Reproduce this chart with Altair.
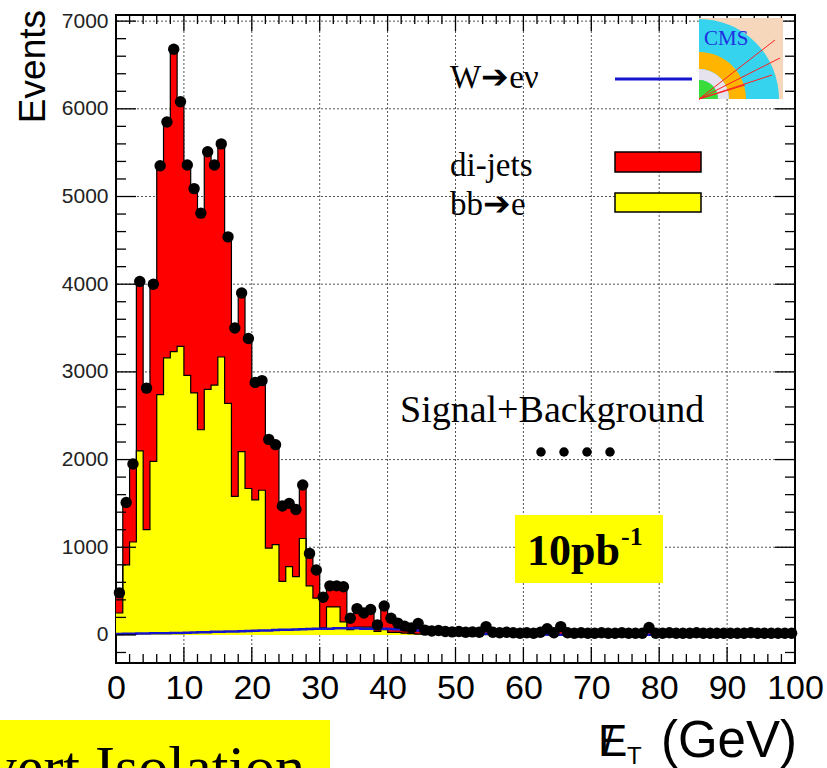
import altair as alt
import pandas as pd

# ---------------- data (1 GeV bins, 0..100) ----------------
bins_lo = list(range(0, 100))

data_events = [480, 1510, 1950, 4030, 2815, 4000, 5350, 5850, 6680, 6080,
               5360, 5090, 4810, 5510, 5360, 5600, 4540, 3500, 3900, 3380,
               2880, 2900, 2230, 2170, 1470, 1500, 1430, 1710, 930, 740,
               430, 560, 560, 550, 190, 300, 250, 290, 115, 330,
               190, 135, 100, 80, 130, 55, 45, 50, 40, 35,
               40, 30, 35, 30, 95, 30, 25, 30, 25, 20,
               25, 20, 30, 70, 25, 95, 25, 20, 25, 20,
               20, 25, 20, 20, 25, 20, 20, 20, 85, 20,
               20, 25, 20, 20, 20, 25, 20, 20, 20, 20,
               20, 20, 20, 25, 20, 20, 20, 20, 20, 20]

stack_total = [480, 1510, 1950, 4030, 2815, 4000, 5350, 5850, 6660, 6080,
               5360, 5090, 4810, 5510, 5360, 5600, 4540, 3500, 3900, 3380,
               2880, 2900, 2230, 2170, 1470, 1500, 1430, 1710, 930, 740,
               430, 560, 560, 550, 190, 300, 250, 290, 115, 330,
               190, 135, 100, 80, 130, 55, 45, 50, 40, 35,
               40, 30, 35, 30, 95, 30, 25, 30, 25, 20,
               25, 20, 30, 70, 25, 95, 25, 20, 25, 20,
               20, 25, 20, 20, 25, 20, 20, 20, 85, 20,
               20, 25, 20, 20, 20, 25, 20, 20, 20, 20,
               20, 20, 20, 25, 20, 20, 20, 20, 20, 20]

bb_to_e = [250, 800, 1060, 2100, 1200, 1980, 2740, 3160, 3230, 3290,
           2960, 2760, 2340, 2800, 2850, 3170, 2640, 1580, 2090, 1670,
           1540, 1650, 990, 1030, 610, 780, 665, 1100, 560, 420,
           80, 320, 320, 150, 60, 90, 90, 90, 40, 60,
           30, 30, 20, 15, 10, 10, 8, 8, 5, 5,
           4, 4, 3, 3, 2, 2, 2, 1, 1, 1,
           1, 1, 1, 1, 0, 0, 0, 0, 0, 0,
           0, 0, 0, 0, 0, 0, 0, 0, 0, 0,
           0, 0, 0, 0, 0, 0, 0, 0, 0, 0,
           0, 0, 0, 0, 0, 0, 0, 0, 0, 0]

w_to_enu = [12, 14, 15, 16, 17, 18, 19, 20, 21, 22,
            25, 28, 30, 32, 35, 35, 38, 40, 42, 45,
            48, 50, 52, 55, 58, 60, 62, 65, 68, 70,
            72, 72, 75, 75, 75, 75, 72, 72, 70, 70,
            68, 65, 60, 55, 50, 45, 40, 35, 30, 26,
            22, 20, 18, 15, 13, 12, 10, 9, 8, 7,
            6, 5, 5, 4, 4, 3, 3, 3, 2, 2,
            2, 2, 1, 1, 1, 1, 1, 1, 1, 1,
            1, 1, 1, 1, 1, 0, 0, 0, 0, 0,
            0, 0, 0, 0, 0, 0, 0, 0, 0, 0]

x_ticks = [0, 10, 20, 30, 40, 50, 60, 70, 80, 90, 100]
x_minor = [v for v in range(0, 101, 2) if v % 10 != 0]
y_ticks = [0, 1000, 2000, 3000, 4000, 5000, 6000, 7000]
y_minor = [v for v in range(-200, 7001, 200) if v % 1000 != 0]

# ---------------- layout ----------------
W, H = 679, 648
X0, Y0 = 116, 15
SERIF = "Liberation Serif"
SANS = "Liberation Sans"


def px(x):
    return x - X0


def py(y):
    return y - Y0


edges = bins_lo + [100]
hist = pd.DataFrame({
    "x": edges,
    "total": stack_total + [stack_total[-1]],
    "bb": bb_to_e + [bb_to_e[-1]],
    "w": w_to_enu + [w_to_enu[-1]],
})
pts = pd.DataFrame({"x": [b + 0.5 for b in bins_lo], "n": data_events})

xs = alt.Scale(domain=[0, 100], nice=False, zero=False)
ys = alt.Scale(domain=[-320, 7070], nice=False, zero=False)
XAX = alt.Axis(values=x_ticks, ticks=False, domain=False, grid=False,
               labelFont=SANS, labelFontSize=34, labelPadding=8,
               labelColor="black", labelFlush=False, title=None)
YAX = alt.Axis(values=y_ticks, ticks=False, domain=False, grid=False, format="d",
               labelFont=SANS, labelFontSize=21, labelPadding=8,
               labelColor="#222222", title=None)


def X(f):
    return alt.X(f, scale=xs, axis=XAX, title=None)


def Y(f):
    return alt.Y(f, scale=ys, axis=YAX, title=None, stack=None)


one = pd.DataFrame({"k": [0]})

# grid
grid_x = alt.Chart(pd.DataFrame({"v": x_ticks[1:-1]})).mark_rule(
    color="#555555", strokeDash=[2, 2], strokeWidth=1
).encode(x=X("v:Q"))
grid_y = alt.Chart(pd.DataFrame({"v": y_ticks[1:]})).mark_rule(
    color="#555555", strokeDash=[2, 2], strokeWidth=1
).encode(y=Y("v:Q"))

# histograms
red = alt.Chart(hist).mark_area(interpolate="step-after", color="#FF0000").encode(
    x=X("x:Q"), y=Y("total:Q"), y2=alt.datum(0))
yellow = alt.Chart(hist).mark_area(interpolate="step-after", color="#FFFF00").encode(
    x=X("x:Q"), y=Y("bb:Q"), y2=alt.datum(0))
red_line = alt.Chart(hist).mark_line(interpolate="step-after", color="black", strokeWidth=1.2).encode(
    x=X("x:Q"), y=Y("total:Q"))
yellow_line = alt.Chart(hist).mark_line(interpolate="step-after", color="black", strokeWidth=1.2).encode(
    x=X("x:Q"), y=Y("bb:Q"))
blue_line = alt.Chart(hist).mark_line(interpolate="step-after", color="#1515D0", strokeWidth=2.5).encode(
    x=X("x:Q"), y=Y("w:Q"))
points = alt.Chart(pts).mark_circle(size=130, color="black", opacity=1).encode(
    x=X("x:Q"), y=Y("n:Q"))


# ticks (inward, ROOT style)
def xtick(vals, length, top):
    c = alt.Chart(pd.DataFrame({"v": vals})).mark_rule(color="black", strokeWidth=1.3)
    if top:
        return c.encode(x=X("v:Q"), y=alt.value(0), y2=alt.value(length))
    return c.encode(x=X("v:Q"), y=alt.value(H), y2=alt.value(H - length))


def ytick(vals, length, right):
    c = alt.Chart(pd.DataFrame({"v": vals})).mark_rule(color="black", strokeWidth=1.3)
    if right:
        return c.encode(y=Y("v:Q"), x=alt.value(W), x2=alt.value(W - length))
    return c.encode(y=Y("v:Q"), x=alt.value(0), x2=alt.value(length))


ticks = [
    xtick(x_ticks, 16, False), xtick(x_minor, 9, False),
    xtick(x_ticks, 16, True), xtick(x_minor, 9, True),
    ytick(y_ticks, 20, False), ytick(y_minor, 10, False),
    ytick(y_ticks, 20, True), ytick(y_minor, 10, True),
]


def text(s, x, y, size, font=SERIF, align="left", weight="normal", angle=0, color="black", baseline="alphabetic"):
    kw = dict(font=font, fontSize=size, align=align, fontWeight=weight, color=color, baseline=baseline)
    if angle:
        kw["angle"] = angle
    return alt.Chart(pd.DataFrame({"t": [s]})).mark_text(**kw).encode(
        text="t:N", x=alt.value(x), y=alt.value(y))


def rect(x1, y1, x2, y2, fill, stroke=None, sw=0):
    kw = dict(color=fill)
    if stroke:
        kw.update(stroke=stroke, strokeWidth=sw)
    return alt.Chart(one).mark_rect(**kw).encode(
        x=alt.value(x1), x2=alt.value(x2), y=alt.value(y1), y2=alt.value(y2))


def seg(x1, y1, x2, y2, color, sw):
    return alt.Chart(one).mark_rule(color=color, strokeWidth=sw).encode(
        x=alt.value(x1), x2=alt.value(x2), y=alt.value(y1), y2=alt.value(y2))


def arc(r1, r2, color, cx, cy):
    return alt.Chart(one).mark_arc(color=color, radius=r2, radius2=r1, theta=0, theta2=1.5708).encode(
        x=alt.value(cx), y=alt.value(cy))


def dot(x, y, size):
    return alt.Chart(one).mark_circle(size=size, color="black", opacity=1).encode(
        x=alt.value(x), y=alt.value(y))


# legend
legend = [
    text("W\u2794e\u03bd", px(450), py(88), 33),
    seg(px(615), py(79), px(692), py(79), "#1515D0", 3),
    text("di-jets", px(450), py(176), 33),
    rect(px(615), py(152), px(701), py(172), "#FF0000", "black", 1.5),
    text("bb\u2794e", px(450), py(215), 33),
    rect(px(615), py(193), px(701), py(212), "#FFFF00", "black", 1.5),
]

# CMS logo (simplified)
cx, cy = px(699), py(99)
logo = [
    rect(px(699), py(18), px(783), py(99), "#F6D7BC"),
    arc(0, 80, "#35D3EE", cx, cy),
    arc(30, 47, "#FFB400", cx, cy),
    arc(19, 30, "#E6E2EE", cx, cy),
    arc(0, 19, "#3ADC3A", cx, cy),
    seg(cx, cy, px(775), py(40), "#FF2020", 1),
    seg(cx, cy, px(780), py(58), "#FF2020", 1),
    seg(cx, cy, px(772), py(75), "#FF2020", 1),
    seg(cx, cy, px(745), py(85), "#FF2020", 1),
    text("CMS", px(704), py(45), 21, color="#2030E0"),
]

annot = [
    text("Signal+Background", px(400), py(422), 38),
    dot(px(541), py(452), 90), dot(px(564), py(452), 90),
    dot(px(587), py(452), 90), dot(px(610), py(452), 90),
    rect(px(515), py(515), px(663), py(583), "#FFFF00"),
    text("10pb", px(527), py(565), 44, weight="bold"),
    text("-1", px(621), py(545), 26, weight="bold"),
    rect(px(-5), py(720), px(330), py(800), "#FFFF00"),
    text("Invert Isolation", px(305), py(787), 60, align="right"),
    text("Events", px(45), py(10), 37, font=SANS, align="right", angle=270),
    text("E", px(598), py(756), 44, font=SANS),
    text("/", px(603), py(756), 40, font=SANS),
    text("T", px(627), py(764), 24, font=SANS),
    text("(GeV)", px(797), py(757), 51, font=SANS, align="right"),
]

chart = alt.layer(
    grid_x, grid_y, red, yellow, red_line, yellow_line, blue_line, points,
    *ticks, *legend, *logo, *annot
).properties(
    width=W, height=H,
    autosize=alt.AutoSizeParams(type="none"),
    padding={"left": X0, "top": Y0, "right": 827 - X0 - W, "bottom": 768 - Y0 - H},
    background="white",
).configure_view(stroke="black", strokeWidth=2)

chart.save("out.html", embed_options={"renderer": "svg", "actions": False})
